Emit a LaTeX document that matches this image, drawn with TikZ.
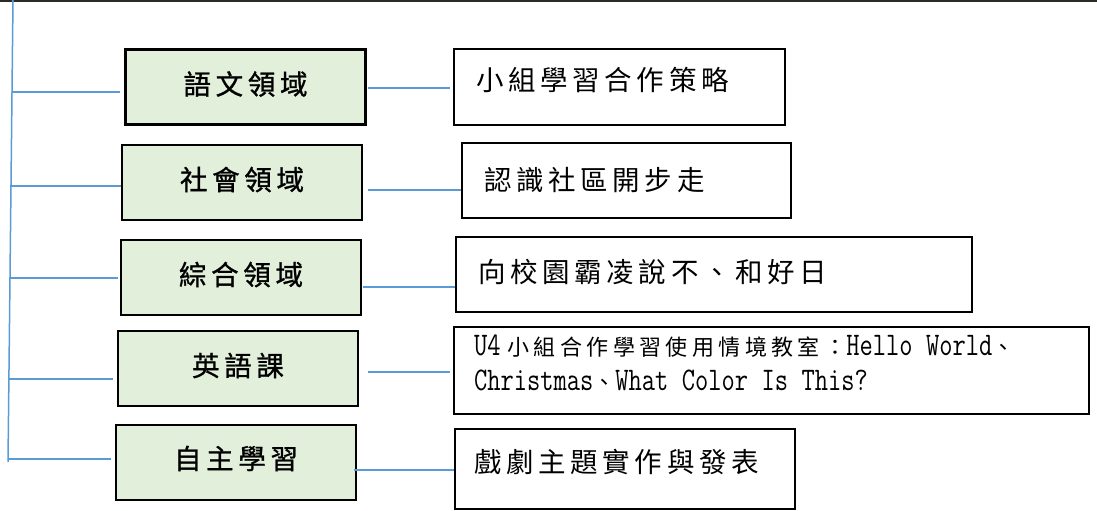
\documentclass[tikz,border=0pt]{standalone}
\usepackage{fontspec}
\usetikzlibrary{calc}
\newfontfamily\mingwide[LetterSpace=17]{Noto Sans CJK TC}
\newfontfamily\mingheavy[LetterSpace=17,FakeBold=1]{Noto Sans CJK TC}
\newfontfamily\mingnarrow[LetterSpace=20]{Noto Sans CJK TC}
\newfontfamily\halfwidth[FakeStretch=0.78]{Latin Modern Mono}
\newcommand{\en}[1]{{\fontsize{33}{35}\selectfont\halfwidth\spaceskip=13.5pt\relax #1}}
\newcommand{\lift}[2]{\raisebox{#1}[\height][\depth]{#2}}
\begin{document}
\begin{tikzpicture}[x=1pt,y=-1pt,
    lbox/.style={draw=black,line width=2.5pt,fill=r226g239b218,
      minimum width=240pt,minimum height=75pt,inner sep=0pt,
      font=\fontsize{27.5}{32}\selectfont\mingheavy},
    rbox/.style={draw=black,line width=2pt,anchor=north west,align=left,
      inner xsep=22pt,inner ysep=0pt,
      font=\fontsize{27.5}{32}\selectfont\mingwide},
    branch/.style={draw=r91g155b213,line width=1.5pt}]
                    \useasboundingbox (0,0) rectangle (1097,511);

                    % Changing color 40 44 36
                    \definecolor{r40g44b36}{rgb}{0.156863,0.172549,0.141176}%
                    % Changing color 91 155 213
                    \definecolor{r91g155b213}{rgb}{0.356863,0.607843,0.835294}%
                    % Changing color 226 239 218
                    \definecolor{r226g239b218}{rgb}{0.886275,0.937255,0.854902}%

                    % Drawing line top border
                    \draw [r40g44b36,line width=2.5pt] (0,1.2) -- (1097,1.2);%

                    % Marking subject boxes
                    \node [lbox] (l1) at (245.5,87.0) {\lift{3pt}{語文領域}};%
                    \node [lbox] (l2) at (242.0,182.5) {\lift{3pt}{社會領域}};%
                    \node [lbox] (l3) at (241.0,277.5) {\lift{3pt}{綜合領域}};%
                    \node [lbox] (l4) at (238.0,368.5) {\lift{3pt}{英語課}};%
                    \node [lbox] (l5) at (236.0,462.5) {\lift{4pt}{自主學習}};%

                    % Marking activity boxes
                    \node [rbox,text width=287pt,minimum height=76pt] (r1) at (453,48) {\lift{7pt}{小組學習合作策略}};%
                    \node [rbox,text width=285pt,minimum height=75pt] (r2) at (461,142) {認識社區開步走};%
                    \node [rbox,text width=472pt,minimum height=75pt] (r3) at (455,236) {\lift{2pt}{向校園霸凌說不、和好日}};%
                    \node [rbox,text width=595pt,minimum height=87pt,inner xsep=20pt,
                      font=\fontsize{22}{35}\selectfont\mingnarrow] (r4) at (453,326)
                      {\lift{5pt}{\begin{tabular}{@{}l@{}}\en{U4}\hspace{7pt}小組合作學習使用情境教室：\en{Hello World}、\\
                       \en{Christmas}、\en{What Color Is This?}\end{tabular}}};%
                    \node [rbox,text width=302pt,minimum height=80pt,inner xsep=19pt] (r5) at (454,428) {\lift{7.5pt}{戲劇主題實作與發表}};%

                    % Drawing line trunk
                    \coordinate (trunktop) at (13,0);
                    \coordinate (trunkbot) at (8,462);
                    \draw [branch] (trunktop) -- (trunkbot);%

                    % Drawing lines trunk to subjects
                    \coordinate (b1) at ($(trunktop)!0.199!(trunkbot)$);
                    \coordinate (b2) at ($(trunktop)!0.403!(trunkbot)$);
                    \coordinate (b3) at ($(trunktop)!0.602!(trunkbot)$);
                    \coordinate (b4) at ($(trunktop)!0.820!(trunkbot)$);
                    \coordinate (b5) at ($(trunktop)!0.994!(trunkbot)$);
                    \draw [branch,shorten >=4pt] (b1) -- (b1 -| l1.west);%
                    \draw [branch,shorten >=0pt] (b2) -- (b2 -| l2.west);%
                    \draw [branch,shorten >=2pt] (b3) -- (b3 -| l3.west);%
                    \draw [branch,shorten >=4pt] (b4) -- (b4 -| l4.west);%
                    \draw [branch,shorten >=4pt] (b5) -- (b5 -| l5.west);%

                    % Drawing lines subjects to activities
                    \draw [branch,shorten <=1pt,shorten >=3pt] ([yshift=-1pt]l1.east) -- ([yshift=-1pt]l1.east -| r1.west);%
                    \draw [branch,shorten <=5pt] ([yshift=-7.5pt]l2.east) -- ([yshift=-7.5pt]l2.east -| r2.west);%
                    \draw [branch,shorten <=1pt] ([yshift=-9.5pt]l3.east) -- ([yshift=-9.5pt]l3.east -| r3.west);%
                    \draw [branch,shorten <=9pt,shorten >=3pt] ([yshift=-3.5pt]l4.east) -- ([yshift=-3.5pt]l4.east -| r4.west);%
                    \draw [branch,shorten <=-3pt] ([yshift=-7.5pt]l5.east) -- ([yshift=-7.5pt]l5.east -| r5.west);%
\end{tikzpicture}
\end{document}
